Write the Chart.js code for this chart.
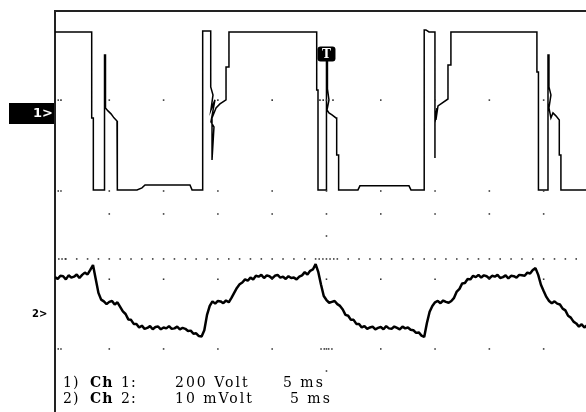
<!DOCTYPE html>
<html>
<head>
<meta charset="utf-8">
<script src="https://cdn.jsdelivr.net/npm/chart.js@4/dist/chart.umd.min.js"></script>
<style>
  html, body { margin: 0; padding: 0; background: #fff; }
</style>
</head>
<body>
<canvas id="scope" width="586" height="412"></canvas>
<script>
// time in ms (5 ms/div), channel 1 in V (200 V/div), channel 2 in mV (10 mV/div)
const ch1Time = [
  0, 1.4, 3.38, 3.38, 3.53, 3.53, 4.14, 4.56, 4.56, 4.65, 4.65, 4.88, 5.16, 5.43, 5.71, 5.74,
  7.55, 8.01, 8.29, 12.43, 12.62, 13.6, 13.6, 13.81, 14.34, 14.34, 14.55, 14.36, 14.73, 14.36,
  14.64, 14.46, 14.46, 14.83, 15.19, 15.75, 15.75, 16.02, 16.02,
  24.1, 24.1, 24.22, 24.22, 25.0, 25.0, 25.09, 25.09, 25.23, 25.05, 25.23, 25.51, 25.87, 25.94,
  25.94, 26.12, 26.12, 27.9, 28.08, 32.6, 32.78, 34.0, 34.0, 34.16, 34.44, 34.81, 34.99, 34.99,
  34.99, 35.17, 35.08, 35.27, 35.64, 36.19, 36.19, 36.46, 36.46,
  44.38, 44.38, 44.52, 44.52, 45.4, 45.4, 45.49, 45.49, 45.67, 45.49, 45.67, 45.86, 46.13, 46.44,
  46.44, 46.59, 46.59, 48.9
];
const ch1Volt = [
  360, 360, 360, -22, -22, -342, -342, -342, 258, 258, 22, 9, -4, -22, -36, -342,
  -342, -333, -320, -320, -342, -342, 364, 364, 364, 116, 80, 13, 58, -40,
  -62, -209, -22, 22, 40, 58, 204, 204, 360,
  360, 102, 102, -342, -342, 258, 258, 107, 58, 13, 0, -9, -22, -22,
  -187, -187, -342, -342, -324, -324, -342, -342, 369, 369, 360, 360, 360, -200,
  -44, 22, -31, 31, 44, 62, 213, 213, 360,
  360, 182, 182, -342, -342, 258, 258, 116, 80, 22, -22, 0, -13, -31,
  -187, -187, -342, -342
];

// channel 2 is sampled every 0.25 ms
const ch2Step = 0.25;
const ch2MilliVolt = [
  8.4, 8.0, 8.7, 8.6, 7.9, 8.8, 8.3, 8.5, 9.0, 8.2, 8.9, 9.4, 9.0, 10.0, 11.1, 8.0,
  4.9, 3.4, 3.0, 2.4, 2.9, 3.1, 2.3, 2.8, 1.8, 0.8, 0.2, -1.0, -1.1, -2.0, -2.0, -2.8,
  -2.4, -3.1, -2.9, -2.5, -3.2, -2.7, -2.6, -3.2, -2.8, -3.0, -2.5, -3.1, -3.0, -2.6, -3.2, -2.9,
  -3.1, -3.6, -3.5, -4.2, -4.1, -4.7, -4.8, -3.4, 0.0, 2.0, 3.0, 2.5, 3.1, 3.0, 2.6, 3.2,
  2.8, 3.8, 4.9, 6.0, 6.8, 7.2, 7.9, 7.6, 8.3, 7.9, 8.7, 8.5, 8.9, 8.2, 8.8, 8.6,
  8.1, 8.7, 8.9, 8.3, 8.5, 8.0, 8.6, 8.2, 8.3, 7.9, 8.5, 8.8, 9.5, 9.0, 9.8, 10.1,
  11.3, 9.5, 6.7, 4.2, 3.3, 2.7, 2.9, 3.1, 2.4, 2.0, 1.2, 0.0, -0.2, -1.1, -1.1, -2.0,
  -2.0, -2.8, -2.5, -3.1, -2.8, -2.6, -3.2, -2.9, -2.7, -3.2, -2.5, -3.0, -3.1, -2.6, -2.9, -3.2,
  -2.6, -3.0, -2.8, -3.3, -3.4, -4.0, -3.9, -4.6, -4.9, -1.8, 0.7, 2.0, 2.8, 3.1, 2.6, 3.2,
  2.9, 2.7, 3.1, 3.8, 5.2, 5.8, 7.0, 7.1, 8.0, 7.9, 8.7, 8.4, 8.9, 8.3, 8.8, 8.6,
  8.1, 8.7, 8.5, 8.9, 8.2, 8.4, 8.8, 8.1, 8.7, 8.6, 8.3, 8.9, 8.8, 8.7, 9.4, 9.2,
  10.0, 10.4, 8.9, 6.7, 5.3, 4.0, 3.1, 2.6, 3.0, 2.5, 2.3, 1.4, 1.0, -0.2, -0.6, -1.5,
  -1.9, -2.6, -2.1, -2.8, -2.3
];

// screen grid: columns in ms, rows in divisions from the top edge
const gridTimes = [5, 10, 15, 20, 25, 30, 35, 40, 45];
const gridRows = [1.98, 4.0, 4.51, 5.96, 7.51];
const edgeTicks = [0.3, 0.55];
const edgeRows = [1.98, 4.0, 7.51];
const levelRow = 5.51;
const levelTicks = [0.35, 0.65, 0.95, 24.33, 24.67, 25.33, 25.67];
const centerTicks = [[24.4, 1.98], [24.7, 1.98], [25.6, 1.98], [24.5, 7.51], [24.8, 7.51],
  [25.2, 7.51], [25.5, 7.51], [25, 5.0], [25, 8.0]];

const triggerTime = 25;
const triggerLevel = 260;

const gridDots = [];
gridTimes.forEach(t => gridRows.forEach(r => gridDots.push({x: t, y: r})));
edgeTicks.forEach(t => edgeRows.forEach(r => gridDots.push({x: t, y: r})));
centerTicks.forEach(p => gridDots.push({x: p[0], y: p[1]}));
for (let t = 1; t <= 48; t++) gridDots.push({x: t, y: levelRow});
levelTicks.forEach(t => gridDots.push({x: t, y: levelRow}));

const ch1Points = ch1Time.map((t, i) => ({x: t, y: ch1Volt[i]}));
const ch2Points = ch2MilliVolt.map((v, i) => ({x: i * ch2Step, y: v}));

const scopeMarks = {
  id: 'scopeMarks',
  afterDatasetsDraw(chart) {
    const {ctx, chartArea, scales} = chart;
    const left = chartArea.left;
    ctx.save();
    ctx.textBaseline = 'middle';

    // channel 1 ground marker
    const g1 = Math.round(scales.y1.getPixelForValue(0));
    ctx.fillStyle = '#000';
    ctx.fillRect(left - 46, g1 - 10, 45, 21);
    ctx.fillStyle = '#fff';
    ctx.font = 'bold 13px "DejaVu Sans"';
    ctx.fillText('1>', left - 22, g1 + 1);

    // channel 2 ground marker
    const g2 = scales.y2.getPixelForValue(0);
    ctx.fillStyle = '#000';
    ctx.font = 'bold 10px "DejaVu Sans"';
    ctx.fillText('2>', left - 23, g2);

    // trigger marker
    const tx = scales.x.getPixelForValue(triggerTime);
    const ty = scales.y1.getPixelForValue(triggerLevel);
    ctx.beginPath();
    ctx.roundRect(tx - 9, ty - 8, 18, 15, 3);
    ctx.fill();
    ctx.fillStyle = '#fff';
    ctx.font = 'bold 12px "DejaVu Serif"';
    ctx.textAlign = 'center';
    ctx.fillText('T', tx, ty);

    // channel settings
    ctx.textAlign = 'left';
    ctx.textBaseline = 'alphabetic';
    ctx.fillStyle = '#000';
    const rows = [
      ['1)', '1:', '200 Volt', '5 ms', 387, 228],
      ['2)', '2:', '10 mVolt', '5 ms', 403, 235]
    ];
    rows.forEach(r => {
      ctx.letterSpacing = '1px';
      ctx.font = '14px "DejaVu Serif"';
      ctx.fillText(r[0], left + 8, r[4]);
      ctx.font = 'bold 14px "DejaVu Serif"';
      ctx.fillText('Ch', left + 35, r[4]);
      ctx.font = '14px "DejaVu Serif"';
      ctx.fillText(r[1], left + 66, r[4]);
      ctx.letterSpacing = '2px';
      ctx.fillText(r[2], left + 120, r[4]);
      ctx.fillText(r[3], left + r[5], r[4]);
    });
    ctx.restore();
  }
};

new Chart(document.getElementById('scope'), {
  type: 'scatter',
  data: {
    datasets: [{
      data: gridDots,
      yAxisID: 'yGrid',
      pointStyle: 'rect',
      pointRadius: 1.1,
      pointBorderWidth: 0,
      pointBackgroundColor: '#333'
    }, {
      data: ch1Points,
      yAxisID: 'y1',
      showLine: true,
      borderColor: '#000',
      borderWidth: 1.5,
      pointRadius: 0
    }, {
      data: ch2Points,
      yAxisID: 'y2',
      showLine: true,
      borderColor: '#000',
      borderWidth: 2.5,
      borderJoinStyle: 'bevel',
      pointRadius: 0
    }]
  },
  options: {
    responsive: false,
    animation: false,
    devicePixelRatio: 1,
    events: [],
    layout: {
      autoPadding: false,
      padding: {left: 55, top: 11, right: 0, bottom: 0}
    },
    plugins: {
      legend: {display: false},
      tooltip: {enabled: false}
    },
    scales: {
      x: {
        type: 'linear',
        position: 'top',
        min: 0,
        max: 48.9,
        ticks: {display: false},
        grid: {drawOnChartArea: false, drawTicks: false},
        border: {display: true, color: '#222', width: 2}
      },
      y1: {
        type: 'linear',
        position: 'left',
        min: -1329,
        max: 453,
        ticks: {display: false},
        grid: {drawOnChartArea: false, drawTicks: false},
        border: {display: true, color: '#222', width: 2}
      },
      y2: {
        type: 'linear',
        display: false,
        min: -21.6,
        max: 67.6
      },
      yGrid: {
        type: 'linear',
        display: false,
        reverse: true,
        min: 0,
        max: 8.911
      }
    }
  },
  plugins: [scopeMarks]
});
</script>
</body>
</html>
